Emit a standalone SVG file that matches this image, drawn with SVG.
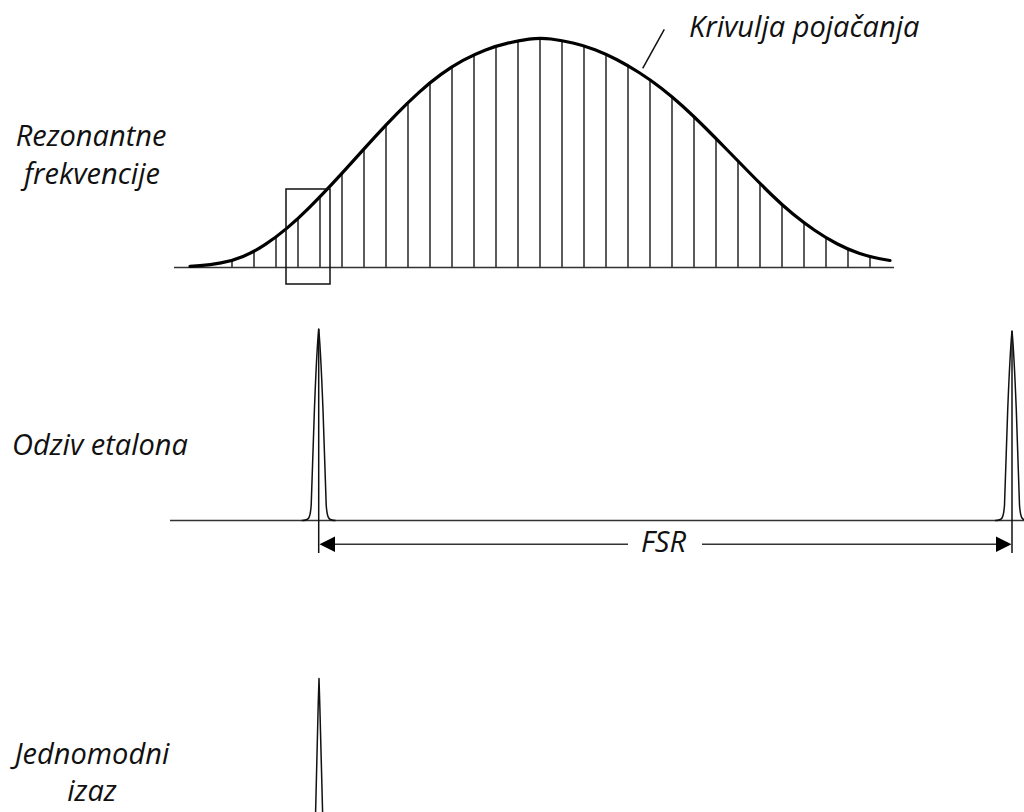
<svg xmlns="http://www.w3.org/2000/svg" width="1024" height="812" viewBox="0 0 1024 812">
<style>
.lbl{font-family:"Open Sans","Liberation Sans",sans-serif;font-style:italic;font-size:29px;fill:#111}
.axis{stroke:#333;stroke-width:1.5;fill:none}
.mode{stroke:#333;stroke-width:1.6}
.peak{stroke:#111;stroke-width:1.5;fill:none;stroke-linejoin:round}
.gain{stroke:#000;stroke-width:3.2;fill:none;stroke-linecap:round;stroke-linejoin:round}
</style>
<rect width="1024" height="812" fill="#fff"/>

<g id="gain-graph">
  <line class="axis" x1="174" y1="267.5" x2="894" y2="267.5"/>
  <g id="modes">
    <line class="mode" x1="232" y1="267.5" x2="232" y2="260.9"/>
    <line class="mode" x1="254" y1="267.5" x2="254" y2="251.9"/>
    <line class="mode" x1="276" y1="267.5" x2="276" y2="237.4"/>
    <line class="mode" x1="298" y1="267.5" x2="298" y2="218.9"/>
    <line class="mode" x1="320" y1="267.5" x2="320" y2="196.9"/>
    <line class="mode" x1="342" y1="267.5" x2="342" y2="173.4"/>
    <line class="mode" x1="364" y1="267.5" x2="364" y2="148.9"/>
    <line class="mode" x1="386" y1="267.5" x2="386" y2="124.9"/>
    <line class="mode" x1="408" y1="267.5" x2="408" y2="102.4"/>
    <line class="mode" x1="430" y1="267.5" x2="430" y2="82.4"/>
    <line class="mode" x1="452" y1="267.5" x2="452" y2="66.4"/>
    <line class="mode" x1="474" y1="267.5" x2="474" y2="54.4"/>
    <line class="mode" x1="496" y1="267.5" x2="496" y2="45.9"/>
    <line class="mode" x1="518" y1="267.5" x2="518" y2="40.9"/>
    <line class="mode" x1="540" y1="267.5" x2="540" y2="38"/>
    <line class="mode" x1="562" y1="267.5" x2="562" y2="40.5"/>
    <line class="mode" x1="584" y1="267.5" x2="584" y2="45.5"/>
    <line class="mode" x1="606" y1="267.5" x2="606" y2="54"/>
    <line class="mode" x1="628" y1="267.5" x2="628" y2="65.5"/>
    <line class="mode" x1="650" y1="267.5" x2="650" y2="79.5"/>
    <line class="mode" x1="672" y1="267.5" x2="672" y2="96.5"/>
    <line class="mode" x1="694" y1="267.5" x2="694" y2="116.5"/>
    <line class="mode" x1="716" y1="267.5" x2="716" y2="138.5"/>
    <line class="mode" x1="738" y1="267.5" x2="738" y2="161"/>
    <line class="mode" x1="760" y1="267.5" x2="760" y2="183.5"/>
    <line class="mode" x1="782" y1="267.5" x2="782" y2="205"/>
    <line class="mode" x1="804" y1="267.5" x2="804" y2="223"/>
    <line class="mode" x1="826" y1="267.5" x2="826" y2="238"/>
    <line class="mode" x1="848" y1="267.5" x2="848" y2="249.5"/>
    <line class="mode" x1="870" y1="267.5" x2="870" y2="257"/>
  </g>
  <path id="gain-curve" class="gain" d="M 190 266.4 L 200 265.65 Q 210 264.9 221 262.9 Q 232 260.9 243 256.4 Q 254 251.9 265 244.65 Q 276 237.4 287 228.15 Q 298 218.9 309 207.9 Q 320 196.9 331 185.15 Q 342 173.4 353 161.15 Q 364 148.9 375 136.9 Q 386 124.9 397 113.65 Q 408 102.4 419 92.4 Q 430 82.4 441 74.4 Q 452 66.4 463 60.4 Q 474 54.4 485 50.15 Q 496 45.9 507 43.4 Q 518 40.9 529 39.2 Q 540 37.5 551 39 Q 562 40.5 573 43 Q 584 45.5 595 49.75 Q 606 54 617 59.75 Q 628 65.5 639 72.5 Q 650 79.5 661 88 Q 672 96.5 683 106.5 Q 694 116.5 705 127.5 Q 716 138.5 727 149.75 Q 738 161 749 172.25 Q 760 183.5 771 194.25 Q 782 205 793 214 Q 804 223 815 230.5 Q 826 238 837 243.75 Q 848 249.5 859 253.25 Q 870 257 880 258.75 L 890 260.5"/>
  <rect id="selection-box" x="286" y="189" width="44" height="95" fill="none" stroke="#111" stroke-width="1.5"/>
</g>

<g id="etalon-graph">
  <line class="axis" x1="170" y1="520.5" x2="1024" y2="520.5"/>
  <g id="peak-1">
    <line class="peak" x1="318.7" y1="329" x2="318.7" y2="553"/>
    <path class="peak" d="M 301.7 520.5 C 308.7 520.5 310.2 519 311.2 505 L 314.4 410 Q 316.7 350 318.7 329 Q 320.7 350 323 410 L 326.2 505 C 327.2 519 328.7 520.5 335.7 520.5"/>
  </g>
  <g id="peak-2">
    <line class="peak" x1="1012" y1="331" x2="1012" y2="553"/>
    <path class="peak" d="M 995 520.5 C 1002 520.5 1003.5 519 1004.5 505 L 1007.7 410 Q 1010 352 1012 331 Q 1014 352 1016.3 410 L 1019.5 505 C 1020.5 519 1022 520.5 1029 520.5"/>
  </g>
</g>

<g id="connectors">
  <line class="axis" x1="330" y1="544.3" x2="628" y2="544.3"/>
  <line class="axis" x1="702" y1="544.3" x2="1000" y2="544.3"/>
  <polygon points="319.5,544.3 335,536.5 335,552" fill="#000"/>
  <polygon points="1011.5,544.3 996,536.5 996,552" fill="#000"/>
  <line class="peak" x1="642.7" y1="68.3" x2="664.3" y2="29.3" stroke-width="1.3"/>
</g>

<g id="single-mode">
  <path class="peak" d="M 315.6 812 L 318.2 705 L 319 678.5 L 319.8 705 L 322.6 812"/>
</g>

<g id="labels">
  <text class="lbl" x="91" y="146" text-anchor="middle">Rezonantne</text>
  <text class="lbl" x="92" y="184" text-anchor="middle">frekvencije</text>
  <text class="lbl" x="689" y="37">Krivulja pojačanja</text>
  <text class="lbl" x="100" y="455" text-anchor="middle">Odziv etalona</text>
  <text class="lbl" x="641" y="552">FSR</text>
  <text class="lbl" x="92" y="764" text-anchor="middle">Jednomodni</text>
  <text class="lbl" x="92" y="801" text-anchor="middle">izaz</text>
</g>
</svg>
